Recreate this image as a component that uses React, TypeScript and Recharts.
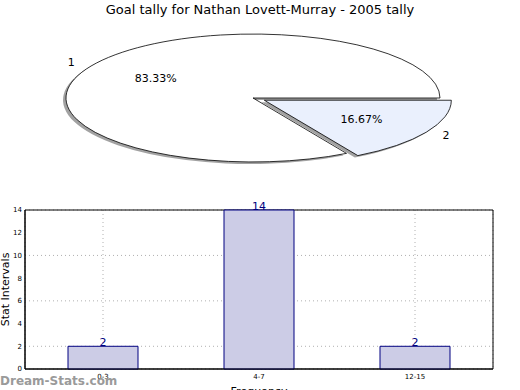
import React from "react";
import {
  PieChart, Pie, Sector, BarChart, Bar, XAxis, YAxis,
  CartesianGrid, LabelList, ReferenceArea,
} from "recharts";

const TITLE = "Goal tally for Nathan Lovett-Murray - 2005 tally";
const SLICE_NAMES = ["1", "2"];
const SLICE_VALUES = [5, 1];
const SLICE_COLORS = ["#ffffff", "#eaf0fd"];
const SLICE_EXPLODE = [0, 0.07];

const RANGES = ["0-3", "4-7", "12-15"];
const COUNTS = [2, 14, 2];
const Y_TICKS = [0, 2, 4, 6, 8, 10, 12, 14];

const FONT = "'DejaVu Sans', 'Liberation Sans', sans-serif";
const SQUASH = 0.342; // the pie is drawn as a flat ellipse
const RAD = Math.PI / 180;

const pieData = SLICE_NAMES.map((name, i) => ({
  name,
  value: SLICE_VALUES[i],
  fill: SLICE_COLORS[i],
  explode: SLICE_EXPLODE[i],
}));

const barData = RANGES.map((range, i) => ({ range, count: COUNTS[i] }));

// shift of an exploded slice along its middle angle
function explodeOffset(p: any): [number, number] {
  const e = p.explode ?? p.payload?.explode ?? 0;
  const d = e * p.outerRadius;
  return [d * Math.cos(-p.midAngle * RAD), d * Math.sin(-p.midAngle * RAD) * SQUASH];
}

function squashed(p: any) {
  const [dx, dy] = explodeOffset(p);
  return `translate(${dx},${dy}) translate(${p.cx},${p.cy}) scale(1,${SQUASH}) translate(${-p.cx},${-p.cy})`;
}

const EllipseSlice = (p: any) => {
  const t = squashed(p);
  const base = {
    cx: p.cx, cy: p.cy, innerRadius: 0, outerRadius: p.outerRadius,
    startAngle: p.startAngle, endAngle: p.endAngle,
  };
  return (
    <g>
      <g transform={`translate(-3,2) ${t}`}>
        <Sector {...base} fill="#7a7a7a" fillOpacity={0.7} stroke="none" />
      </g>
      <g transform={t}>
        <Sector
          {...base}
          fill={p.fill}
          stroke="#000"
          strokeWidth={0.8}
          vectorEffect="non-scaling-stroke"
        />
      </g>
    </g>
  );
};

const SliceLabel = (p: any) => {
  const [dx, dy] = explodeOffset(p);
  const cos = Math.cos(-p.midAngle * RAD);
  const sin = Math.sin(-p.midAngle * RAD);
  const at = (k: number) => [
    p.cx + dx + k * p.outerRadius * cos,
    p.cy + dy + k * p.outerRadius * sin * SQUASH,
  ];
  const [lx, ly] = at(1.1);
  const [px, py] = at(0.6);
  return (
    <g fontFamily={FONT} fontSize={11} fill="#000">
      <text x={lx} y={ly} textAnchor={cos < 0 ? "end" : "start"} dominantBaseline="central">
        {p.name}
      </text>
      <text x={px} y={py} textAnchor="middle" dominantBaseline="central">
        {(p.percent * 100).toFixed(2)}%
      </text>
    </g>
  );
};

export default function App() {
  return (
    <div style={{ position: "absolute", left: 0, top: 0, width: 520, height: 390, background: "#fff", fontFamily: FONT }}>
      <div style={{ position: "absolute", top: 2, left: 0, width: 520, textAlign: "center", fontSize: 13 }}>
        {TITLE}
      </div>

      <div style={{ position: "absolute", top: 0, left: 0 }}>
        <PieChart width={520} height={195} margin={{ top: 0, right: 0, bottom: 0, left: 0 }}>
          <Pie
            data={pieData}
            dataKey="value"
            nameKey="name"
            cx={253}
            cy={98}
            outerRadius={187}
            startAngle={0}
            endAngle={360}
            shape={EllipseSlice}
            label={SliceLabel}
            labelLine={false}
            isAnimationActive={false}
          />
        </PieChart>
      </div>

      <div style={{ position: "absolute", top: 195, left: 0 }}>
        <BarChart
          width={520}
          height={195}
          data={barData}
          margin={{ top: 15, right: 27, bottom: 0, left: 5 }}
        >
          <CartesianGrid stroke="#b0b0b0" strokeDasharray="1 3" />
          <XAxis
            dataKey="range"
            height={21}
            tickLine={false}
            tickSize={3}
            tickMargin={2}
            axisLine={{ stroke: "#000" }}
            tick={{ fontSize: 7, fill: "#000", fontFamily: FONT }}
            label={{ value: "Frequency", position: "insideBottom", offset: -5, fontSize: 11, fill: "#000", fontFamily: FONT }}
          />
          <YAxis
            width={20}
            domain={[0, 14]}
            ticks={Y_TICKS}
            tickLine={false}
            tickSize={3}
            tickMargin={0}
            axisLine={{ stroke: "#000" }}
            tick={{ fontSize: 7, fill: "#000", fontFamily: FONT }}
            label={{ value: "Stat Intervals", angle: -90, position: "insideLeft", offset: 0, fontSize: 11, fill: "#000", fontFamily: FONT, style: { textAnchor: "middle" } }}
          />
          <Bar dataKey="count" fill="#ccccE6" stroke="#000080" strokeWidth={1} barSize={70} isAnimationActive={false}>
            <LabelList dataKey="count" position="top" offset={0} fill="#000080" fontSize={11} fontFamily={FONT} />
          </Bar>
          <ReferenceArea y1={0} y2={14} fill="none" stroke="#000" strokeWidth={1} ifOverflow="visible" />
        </BarChart>
      </div>

      <div style={{ position: "absolute", left: 0, top: 374, fontSize: 12, fontWeight: "bold", color: "#9a9a9a" }}>
        Dream-Stats.com
      </div>
    </div>
  );
}
